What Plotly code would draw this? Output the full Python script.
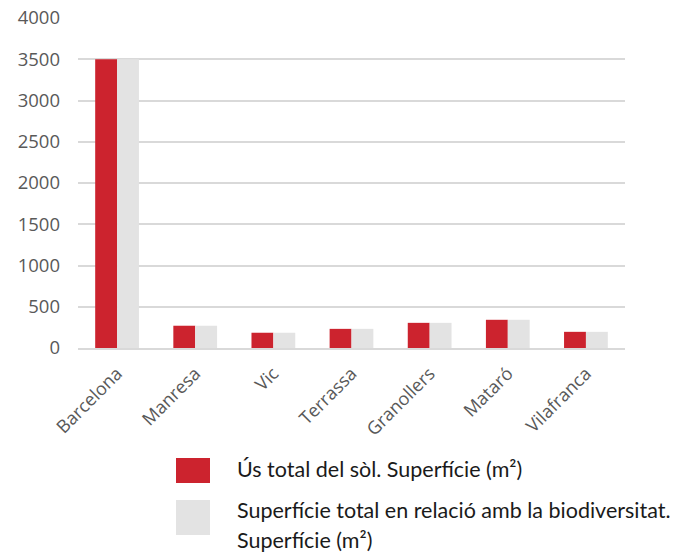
import plotly.graph_objects as go

# Cities and surface values (m²)
ciutats = ["Barcelona", "Manresa", "Vic", "Terrassa", "Granollers", "Mataró", "Vilafranca"]
us_total_sol = [3500, 270, 185, 232, 305, 342, 196]
sup_biodiversitat = [3500, 270, 185, 232, 305, 342, 196]

serie_noms = [
    "Ús total del sòl. Superfície (m²)",
    "Superfície total en relació amb la biodiversitat.",
]
serie_noms_2a_linia = ["", "Superfície (m²)"]
colors = ["#cc232e", "#e3e3e3"]

fig = go.Figure()
fig.add_trace(go.Bar(x=ciutats, y=us_total_sol, name=serie_noms[0],
                     marker=dict(color=colors[0], line=dict(width=0))))
fig.add_trace(go.Bar(x=ciutats, y=sup_biodiversitat, name=serie_noms[1],
                     marker=dict(color=colors[1], line=dict(width=0))))

fig.update_layout(
    width=696, height=553,
    margin=dict(l=78, r=71, t=18, b=205, autoexpand=False),
    paper_bgcolor="white", plot_bgcolor="white",
    barmode="group", bargap=0.44, bargroupgap=0,
    showlegend=False,
    xaxis=dict(tickangle=-45, tickfont=dict(family="Open Sans", size=18, color="#595959"),
               showgrid=False, showline=True, linecolor="#d9d9d9", linewidth=2,
               ticks="", ticklabelstandoff=6, automargin=False),
    yaxis=dict(range=[0, 4000], dtick=500,
               tickfont=dict(family="Open Sans", size=18.5, color="#595959"),
               showgrid=True, gridcolor="#d9d9d9", gridwidth=1.5,
               zeroline=False, ticks="", ticklen=0, tickformat="d",
               ticklabelstandoff=17, automargin=False),
)

# Custom legend below the chart: swatches and labels
legend_font = dict(family="Lato", size=21.5, color="#1a1a1a")
swatches = [(458, 483), (500, 535)]
text_y = [(469, None), (510, 540)]
for color, (y0, y1), nom, nom2, (ty1, ty2) in zip(colors, swatches, serie_noms,
                                                  serie_noms_2a_linia, text_y):
    fig.add_shape(type="rect", xref="paper", yref="paper",
                  x0=(176 - 78) / 547, x1=(210 - 78) / 547,
                  y0=(348 - y1) / 330, y1=(348 - y0) / 330,
                  fillcolor=color, line=dict(width=0))
    for txt, ty in ((nom, ty1), (nom2, ty2)):
        if not txt:
            continue
        fig.add_annotation(text=txt, xref="paper", yref="paper",
                           x=(237 - 78) / 547, y=(348 - ty) / 330,
                           xanchor="left", yanchor="middle", align="left",
                           xshift=-2, showarrow=False, font=legend_font)

fig.write_html("out.html")
